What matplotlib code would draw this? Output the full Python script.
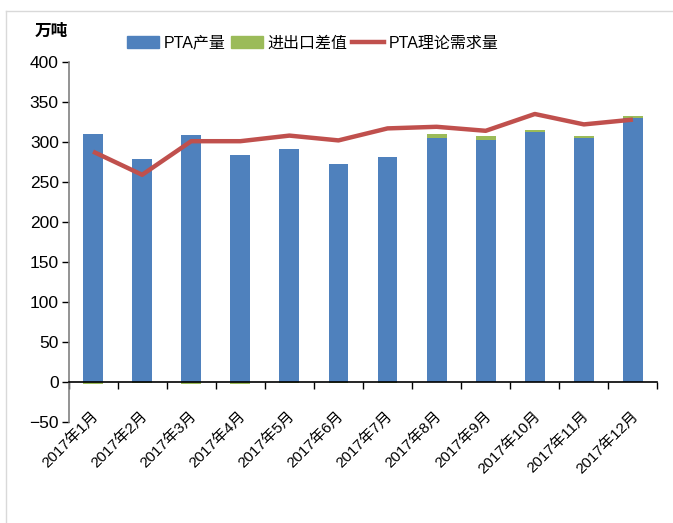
import matplotlib
matplotlib.use('Agg')
import matplotlib.pyplot as plt
from matplotlib.lines import Line2D
from matplotlib.patches import Patch
from matplotlib.transforms import ScaledTranslation

plt.rcParams['font.family'] = ['Liberation Sans Narrow', 'Liberation Sans', 'Noto Sans CJK SC', 'DejaVu Sans']
plt.rcParams['axes.unicode_minus'] = True

months = ['2017年1月', '2017年2月', '2017年3月', '2017年4月', '2017年5月', '2017年6月',
          '2017年7月', '2017年8月', '2017年9月', '2017年10月', '2017年11月', '2017年12月']
pta_output = [310, 279, 309, 284, 291, 272, 281, 305, 302, 312, 305, 330]
net_import = [-3, -1, -3, -3, -1, -1, -1, 5, 5, 3.5, 2.5, 2.5]
pta_demand = [288, 259, 301, 301, 308, 302, 317, 319, 314, 335, 322, 328]

BLUE = '#4F81BD'
GREEN = '#9BBB59'
RED = '#C0504D'

fig = plt.figure(figsize=(6.73, 5.23), dpi=100)
ax = fig.add_axes([68.5 / 673, 1 - 422 / 523, 589 / 673, 360 / 523])

x = list(range(len(months)))
w = 0.405
ax.bar(x, pta_output, width=w, color=BLUE, zorder=2)
# excel-style stacking: negatives hang from zero, positives sit on the blue bar
bottoms = [p if n > 0 else 0 for p, n in zip(pta_output, net_import)]
ax.bar(x, net_import, width=w, bottom=bottoms, color=GREEN, zorder=2)
ax.plot(x, pta_demand, color=RED, lw=3.2, zorder=3, solid_capstyle='butt')

ax.set_xlim(-0.5, len(months) - 0.5)
ax.set_ylim(-50, 400)
ax.set_yticks(range(-50, 401, 50))

ax.spines['top'].set_visible(False)
ax.spines['right'].set_visible(False)
ax.spines['left'].set_color('#808080')
ax.spines['left'].set_linewidth(1.2)
ax.spines['bottom'].set_position(('data', 0))
ax.spines['bottom'].set_color('black')
ax.spines['bottom'].set_linewidth(1.2)

# category boundaries carry the ticks, centres carry the labels
ax.set_xticks([i - 0.5 for i in range(len(months) + 1)])
ax.set_xticklabels([])
ax.set_xticks(x, minor=True)
ax.set_xticklabels(months, minor=True, rotation=45, ha='right', va='center',
                   rotation_mode='anchor', fontsize=11)
ax.tick_params(axis='x', which='major', direction='out', length=5, width=1, colors='black')
ax.tick_params(axis='x', which='minor', length=0, pad=23)
ax.tick_params(axis='y', direction='out', length=5, width=1, labelsize=12.5, pad=2)
shift = ScaledTranslation(3 / 100, 0, fig.dpi_scale_trans)
for lab in ax.get_xticklabels(minor=True):
    lab.set_transform(lab.get_transform() + shift)

fig.text(35 / 673, 1 - 31 / 523, '万吨', fontsize=12, fontweight='bold',
         va='center', ha='left')

handles = [Patch(color=BLUE), Patch(color=GREEN), Line2D([], [], color=RED, lw=3.2)]
fig.legend(handles, ['PTA产量', '进出口差值', 'PTA理论需求量'], loc='center',
           bbox_to_anchor=(0.465, 1 - 43 / 523), ncol=3, frameon=False,
           fontsize=11.5, handlelength=2.0, handleheight=0.75,
           handletextpad=0.3, columnspacing=0.3)

# light outer frame
fig.add_artist(Line2D([5.5 / 673, 5.5 / 673], [0, 1 - 11 / 523], color='#d9d9d9',
                      lw=1, transform=fig.transFigure))
fig.add_artist(Line2D([5.5 / 673, 1], [1 - 11 / 523, 1 - 11 / 523], color='#d9d9d9',
                      lw=1, transform=fig.transFigure))

fig.savefig('out.png', dpi=100)
